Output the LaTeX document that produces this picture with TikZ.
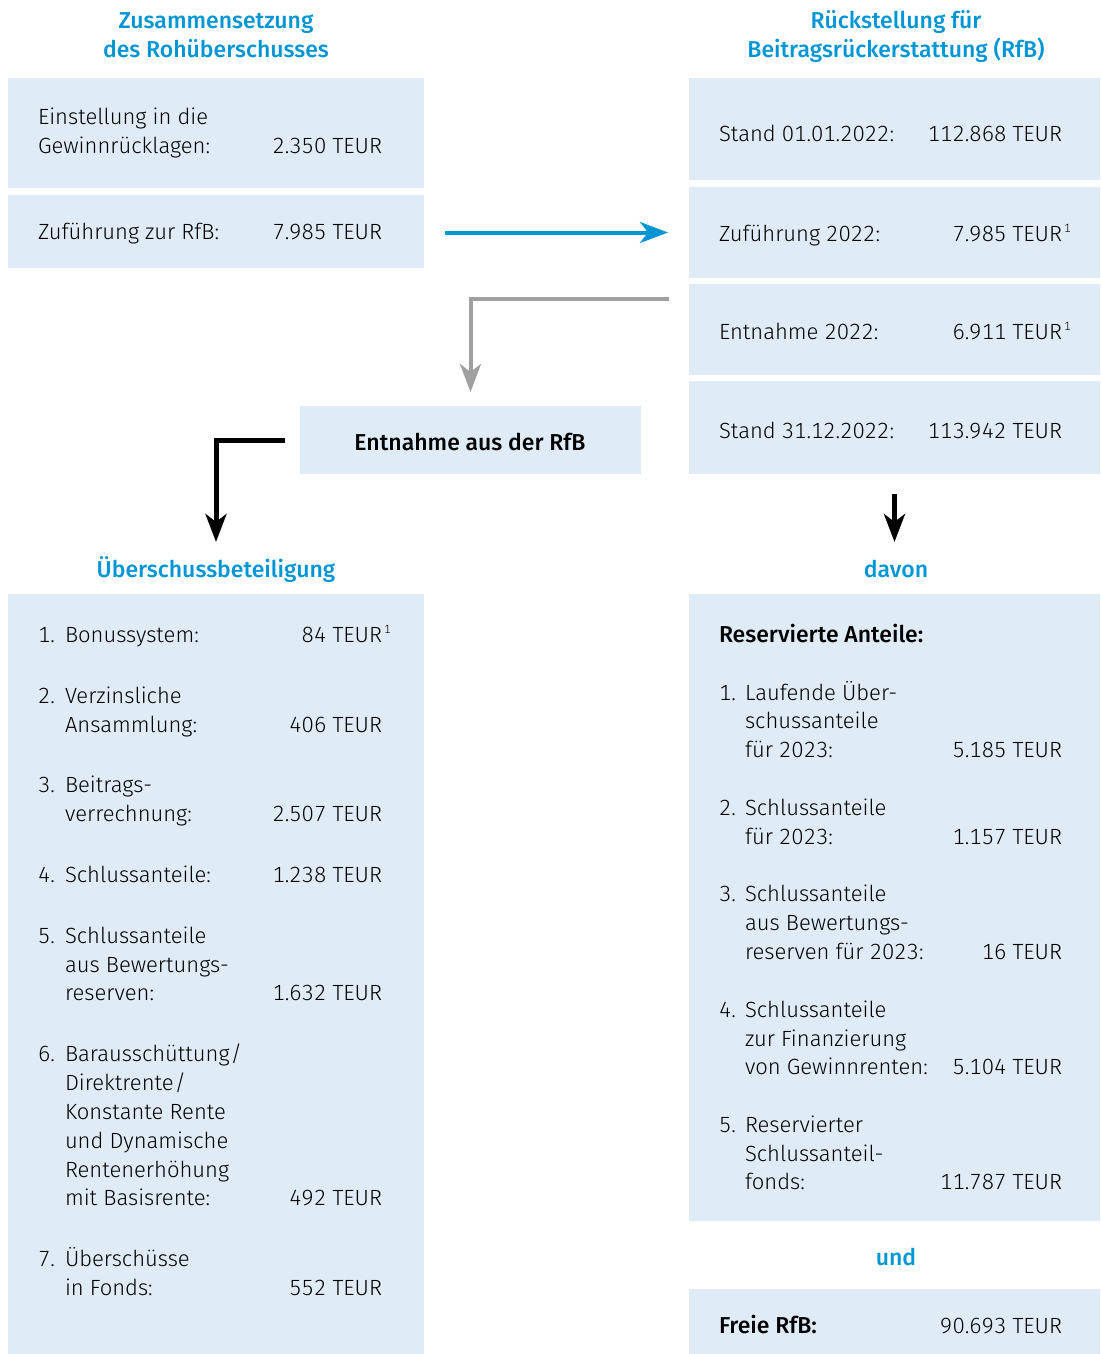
\documentclass[tikz,border=0pt]{standalone}
\usepackage{fontspec}
\setmainfont{Fira Sans}[UprightFont=* Light, BoldFont=* Medium, Numbers=Monospaced]
\usetikzlibrary{arrows.meta,calc}
\definecolor{boxblue}{RGB}{223,236,248}
\definecolor{headblue}{RGB}{0,150,214}
\definecolor{arrgray}{RGB}{160,160,160}
\newcommand{\bodyfont}{\fontsize{22}{29}\selectfont}
\newcommand{\boldfont}{\fontsize{23}{29}\selectfont\bfseries}
\newcommand{\supone}{\rlap{\kern2pt\raisebox{9pt}{\fontsize{12}{12}\selectfont 1}}}
\tikzset{
  box/.style={fill=boxblue,draw=none,anchor=north west,inner sep=0pt,outer sep=0pt},
  tl/.style={anchor=base west,inner sep=0pt,outer sep=0pt,font=\bodyfont},
  tv/.style={anchor=base east,inner sep=0pt,outer sep=0pt,font=\bodyfont},
  bl/.style={anchor=base west,inner sep=0pt,outer sep=0pt,font=\boldfont},
  hd/.style={anchor=base,inner sep=0pt,outer sep=0pt,text=headblue,font=\boldfont},
  arr/.style={line width=4pt,-{Stealth[length=28pt,width=21pt,inset=8pt]}},
}
\begin{document}
\begin{tikzpicture}[x=1pt,y=-1pt]
\useasboundingbox (0,0) rectangle (1100,1354);
% boxes
\node[box,minimum width=416pt,minimum height=110pt] (lb1) at (8,78) {};
\node[box,minimum width=416pt,minimum height=73pt] (lb2) at (8,195) {};
\node[box,minimum width=411pt,minimum height=102pt] (rb1) at (689,78) {};
\node[box,minimum width=411pt,minimum height=91pt] (rb2) at (689,187) {};
\node[box,minimum width=411pt,minimum height=91pt] (rb3) at (689,284) {};
\node[box,minimum width=411pt,minimum height=93pt] (rb4) at (689,381) {};
\node[box,minimum width=341pt,minimum height=68pt] (ent) at (300,406) {};
\node[box,minimum width=416pt,minimum height=760pt] (lb3) at (8,594) {};
\node[box,minimum width=411pt,minimum height=627pt] (rb5) at (689,594) {};
\node[box,minimum width=411pt,minimum height=65pt] (rb6) at (689,1289) {};
% headings
\node[hd] (h1a) at (216,29) {Zusammensetzung};
\node[hd] (h1b) at (216,58) {des Rohüberschusses};
\node[hd] (h2a) at (896,29) {Rückstellung für};
\node[hd] (h2b) at (896,58) {Beitragsrückerstattung (RfB)};
\node[hd] (h3) at (216,577) {Überschussbeteiligung};
\node[hd] (h4) at (896,577) {davon};
\node[hd] (h5) at (896,1265) {und};
\node[anchor=base,inner sep=0pt,font=\boldfont] (entt) at (470,450) {Entnahme aus der RfB};
% arrows
\draw[arr,headblue] ([xshift=21pt]lb2.east |- rb2.west) -- ([xshift=-21pt]rb2.west);
\coordinate (g0) at (669,299);
\draw[arr,arrgray] (g0) -| ([yshift=14pt]ent.north);
\draw[arr,black,line width=5pt] ([xshift=-15pt]ent.west) -| ([yshift=52pt]lb3.north);
\draw[arr,black,line width=5pt] ([yshift=-20pt]rb4.south) -- ([yshift=52pt]rb5.north);
% left top texts
\node[tl] (t1) at (38,124) {Einstellung in die};
\node[tl] (t2) at (38,153) {Gewinnrücklagen:};
\node[tv] (v1) at (382,153) {2.350 TEUR};
\node[tl] (t3) at (38,239) {Zuführung zur RfB:};
\node[tv] (v2) at (382,239) {7.985 TEUR};
% right top texts
\node[tl] (t4) at (719,141) {Stand 01.01.2022:};
\node[tv] (v3) at (1062,141) {112.868 TEUR};
\node[tl] (t5) at (719,241) {Zuführung 2022:};
\node[tv] (v4) at (1062,241) {7.985 TEUR\supone};
\node[tl] (t6) at (719,339) {Entnahme 2022:};
\node[tv] (v5) at (1062,339) {6.911 TEUR\supone};
\node[tl] (t7) at (719,438) {Stand 31.12.2022:};
\node[tv] (v6) at (1062,438) {113.942 TEUR};
% left list
\node[tl] (n1) at (38,642) {1.};
\node[tl] (a1) at (65,642) {Bonussystem:};
\node[tv] (w1) at (382,642) {84 TEUR\supone};
\node[tl] (n2) at (38,703) {2.};
\node[tl] (a2a) at (65,703) {Verzinsliche};
\node[tl] (a2b) at (65,732) {Ansammlung:};
\node[tv] (w2) at (382,732) {406 TEUR};
\node[tl] (n3) at (38,792) {3.};
\node[tl] (a3a) at (65,792) {Beitrags-};
\node[tl] (a3b) at (65,821) {verrechnung:};
\node[tv] (w3) at (382,821) {2.507 TEUR};
\node[tl] (n4) at (38,882) {4.};
\node[tl] (a4) at (65,882) {Schlussanteile:};
\node[tv] (w4) at (382,882) {1.238 TEUR};
\node[tl] (n5) at (38,943) {5.};
\node[tl] (a5a) at (65,943) {Schlussanteile};
\node[tl] (a5b) at (65,972) {aus Bewertungs-};
\node[tl] (a5c) at (65,1000) {reserven:};
\node[tv] (w5) at (382,1000) {1.632 TEUR};
\node[tl] (n6) at (38,1061) {6.};
\node[tl] (a6a) at (65,1061) {Barausschüttung\kern1pt/};
\node[tl] (a6b) at (65,1090) {Direktrente\kern1pt/};
\node[tl] (a6c) at (65,1119) {Konstante Rente};
\node[tl] (a6d) at (65,1148) {und Dynamische};
\node[tl] (a6e) at (65,1177) {Rentenerhöhung};
\node[tl] (a6f) at (65,1205) {mit Basisrente:};
\node[tv] (w6) at (382,1205) {492 TEUR};
\node[tl] (n7) at (38,1266) {7.};
\node[tl] (a7a) at (65,1266) {Überschüsse};
\node[tl] (a7b) at (65,1295) {in Fonds:};
\node[tv] (w7) at (382,1295) {552 TEUR};
% right list
\node[bl] (r0) at (719,642) {Reservierte Anteile:};
\node[tl] (m1) at (719,700) {1.};
\node[tl] (b1a) at (745,700) {Laufende Über-};
\node[tl] (b1b) at (745,728) {schussanteile};
\node[tl] (b1c) at (745,757) {für 2023:};
\node[tv] (u1) at (1062,757) {5.185 TEUR};
\node[tl] (m2) at (719,815) {2.};
\node[tl] (b2a) at (745,815) {Schlussanteile};
\node[tl] (b2b) at (745,844) {für 2023:};
\node[tv] (u2) at (1062,844) {1.157 TEUR};
\node[tl] (m3) at (719,901) {3.};
\node[tl] (b3a) at (745,901) {Schlussanteile};
\node[tl] (b3b) at (745,930) {aus Bewertungs-};
\node[tl] (b3c) at (745,959) {reserven für 2023:};
\node[tv] (u3) at (1062,959) {16 TEUR};
\node[tl] (m4) at (719,1017) {4.};
\node[tl] (b4a) at (745,1017) {Schlussanteile};
\node[tl] (b4b) at (745,1046) {zur Finanzierung};
\node[tl] (b4c) at (745,1074) {von Gewinnrenten:};
\node[tv] (u4) at (1062,1074) {5.104 TEUR};
\node[tl] (m5) at (719,1132) {5.};
\node[tl] (b5a) at (745,1132) {Reservierter};
\node[tl] (b5b) at (745,1161) {Schlussanteil-};
\node[tl] (b5c) at (745,1189) {fonds:};
\node[tv] (u5) at (1062,1189) {11.787 TEUR};
\node[bl] (f0) at (719,1333) {Freie RfB:};
\node[tv] (u6) at (1062,1333) {90.693 TEUR};
\end{tikzpicture}
\end{document}
